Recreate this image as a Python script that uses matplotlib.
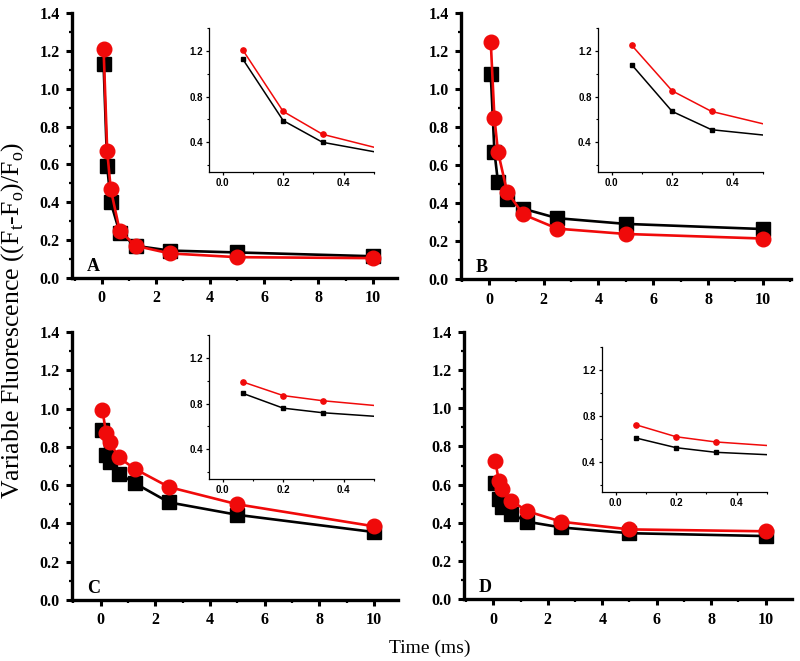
import matplotlib
matplotlib.use("Agg")
import matplotlib.pyplot as plt
from matplotlib.ticker import MultipleLocator

plt.rcParams['font.family'] = ['Liberation Serif', 'DejaVu Serif']
plt.rcParams['mathtext.fontset'] = 'custom'
plt.rcParams['mathtext.rm'] = 'Liberation Serif'

time_ms = [0.066, 0.2, 0.33, 0.66, 1.25, 2.5, 5.0, 10.0]

a_black = [1.13, 0.59, 0.40, 0.24, 0.17, 0.145, 0.135, 0.115]
a_red = [1.21, 0.67, 0.47, 0.25, 0.17, 0.13, 0.11, 0.105]
b_black = [1.08, 0.67, 0.51, 0.42, 0.37, 0.32, 0.29, 0.263]
b_red = [1.25, 0.85, 0.67, 0.46, 0.34, 0.265, 0.237, 0.213]
c_black = [0.89, 0.76, 0.72, 0.66, 0.61, 0.51, 0.445, 0.355]
c_red = [0.99, 0.87, 0.825, 0.745, 0.685, 0.59, 0.50, 0.385]
d_black = [0.61, 0.525, 0.485, 0.445, 0.405, 0.375, 0.345, 0.33]
d_red = [0.725, 0.62, 0.575, 0.515, 0.46, 0.405, 0.365, 0.355]

panel_labels = ['A', 'B', 'C', 'D']
series = [(a_black, a_red), (b_black, b_red), (c_black, c_red), (d_black, d_red)]

W, H = 800, 661
RED = '#f00a0a'

# (left, right, top, bottom) in pixels
main_boxes = [(72, 397, 13, 278), (461, 791, 13, 279), (72, 398, 332, 600), (464, 792, 332, 599)]
main_xlims = [(-1.10, 10.9), (-1.02, 11.03), (-1.05, 10.88), (-1.08, 10.97)]
inset_boxes = [(209, 374, 28, 172), (598, 763, 28, 172), (209, 374, 335, 479), (602, 767, 347, 492)]

fig = plt.figure(figsize=(8, 6.61), dpi=100)


def px_axes(box):
    l, r, t, b = box
    return fig.add_axes([l / W, (H - b) / H, (r - l) / W, (b - t) / H])


for i in range(4):
    blk, red = series[i]
    ax = px_axes(main_boxes[i])
    ax.plot(time_ms, blk, color='black', lw=1.9, marker='s', ms=9.5, mec='black', mfc='black', zorder=3, clip_on=False)
    ax.plot(time_ms, red, color=RED, lw=1.9, marker='o', ms=10.5, mec=RED, mfc=RED, zorder=4, clip_on=False)
    ax.set_xlim(*main_xlims[i])
    ax.set_ylim(0, 1.4)
    for s in ['top', 'right']:
        ax.spines[s].set_visible(False)
    for s in ['left', 'bottom']:
        ax.spines[s].set_linewidth(2.4)
    ax.xaxis.set_major_locator(MultipleLocator(2))
    ax.xaxis.set_minor_locator(MultipleLocator(1))
    ax.yaxis.set_major_locator(MultipleLocator(0.2))
    ax.yaxis.set_minor_locator(MultipleLocator(0.1))
    ax.tick_params(which='major', direction='out', length=4, width=2.2, labelsize=11.5, pad=5)
    ax.tick_params(which='minor', direction='out', length=2.5, width=1.6)
    ax.set_yticks([0, 0.2, 0.4, 0.6, 0.8, 1.0, 1.2, 1.4])
    ax.set_yticklabels(['0.0', '0.2', '0.4', '0.6', '0.8', '1.0', '1.2', '1.4'])
    ax.set_xticks([0, 2, 4, 6, 8, 10])
    ax.set_xticklabels(['0', '2', '4', '6', '8', '10'])
    for lab in ax.get_xticklabels() + ax.get_yticklabels():
        lab.set_fontweight('bold')
    ax.text(0.045, 0.012, panel_labels[i], transform=ax.transAxes, fontsize=13,
            fontweight='bold', ha='left', va='bottom')

    ins = px_axes(inset_boxes[i])
    ins.patch.set_alpha(0)
    ins.plot(time_ms, blk, color='black', lw=1.1, marker='s', ms=3.5, zorder=3)
    ins.plot(time_ms, red, color=RED, lw=1.1, marker='o', ms=3.8, zorder=4)
    ins.set_xlim(-0.045, 0.5)
    ins.set_ylim(0.14, 1.4)
    for s in ['top', 'right']:
        ins.spines[s].set_visible(False)
    for s in ['left', 'bottom']:
        ins.spines[s].set_linewidth(0.9)
    ins.set_xticks([0.0, 0.2, 0.4])
    ins.set_xticklabels(['0.0', '0.2', '0.4'])
    ins.set_yticks([0.4, 0.8, 1.2])
    ins.set_yticklabels(['0.4', '0.8', '1.2'])
    ins.xaxis.set_minor_locator(MultipleLocator(0.1))
    ins.yaxis.set_minor_locator(MultipleLocator(0.2))
    ins.tick_params(which='major', direction='out', length=2.5, width=0.9, labelsize=7, pad=2)
    ins.tick_params(which='minor', direction='out', length=1.5, width=0.8)
    for lab in ins.get_xticklabels() + ins.get_yticklabels():
        lab.set_fontweight('bold')
        lab.set_family(['Liberation Sans', 'DejaVu Sans'])

fig.text(13 / W, (H - 320) / H,
         r'Variable Fluorescence ((F$_\mathregular{t}$-F$_\mathregular{o}$)/F$_\mathregular{o}$)',
         rotation=90, ha='center', va='center', fontsize=18.5)
fig.text(430 / W, (H - 648) / H, 'Time (ms)', ha='center', va='center', fontsize=14)

fig.savefig('out.png', dpi=100)
